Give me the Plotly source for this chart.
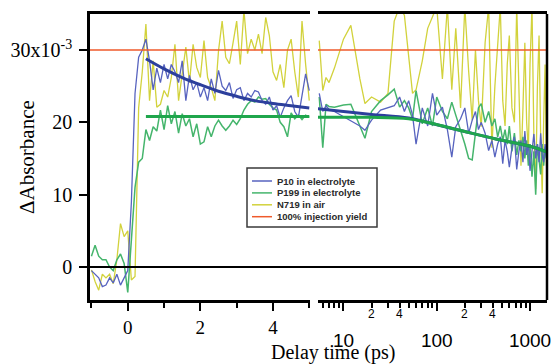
import math
import plotly.graph_objects as go

# ---------------- data (units of 1e-3 absorbance) ----------------
# Left panel: linear delay-time axis (ps)
t_short = [-1.0, -0.9, -0.8, -0.7, -0.6, -0.5, -0.4, -0.3, -0.2, -0.1,
           0.0, 0.1, 0.2, 0.3, 0.4, 0.5, 0.6, 0.7, 0.8, 0.9,
           1.0, 1.1, 1.2, 1.3, 1.4, 1.5, 1.6, 1.7, 1.8, 1.9,
           2.0, 2.1, 2.2, 2.3, 2.4, 2.5, 2.6, 2.7, 2.8, 2.9,
           3.0, 3.1, 3.2, 3.3, 3.4, 3.5, 3.6, 3.7, 3.8, 3.9,
           4.0, 4.1, 4.2, 4.3, 4.4, 4.5, 4.6, 4.7, 4.8, 4.9, 5.0]

p10_short = [-0.5, -1.0, -1.5, -2.7, -2.5, -1.5, -2.2, -1.0, -2.5, -1.5,
             -0.5, 9, 24, 29, 30, 31.5, 28.5, 24.5, 27.5, 25.5,
             28, 26, 28, 27, 25.5, 28.5, 23, 26.5, 24.5, 25.5,
             23.5, 24.8, 23, 26, 24, 27.2, 25, 24.4, 25.5, 23.3,
             24.5, 24.8, 23, 24, 23.5, 24.4, 24.2, 23, 22.5, 23.5,
             21.7, 22.3, 20.7, 22, 23, 23.7, 21.5, 20.7, 23.5, 26.7, 24.4]

p199_short = [1.5, 3.0, 1.5, 1.0, 1.0, 0.0, -0.5, 1.0, 1.8, 0.5,
              -3.5, 4.5, 11, 14.5, 15, 19, 17.5, 19.4, 18.8, 21.7,
              19, 22.3, 19.8, 21.5, 18.5, 21.2, 19.5, 20.5, 18, 19.8,
              17, 17.3, 19.4, 18, 19.5, 20.3, 19.5, 18.9, 19.5, 20.3,
              19.7, 20.5, 21.7, 22.5, 23, 22.8, 23.5, 23.2, 23.3, 22.5,
              22, 21.7, 20, 19.4, 18, 21.3, 20.5, 21, 20.4, 21, 20.7]

n719_short = [-0.4, -2, -3.2, -1, -1.5, -1, -2.3, 1, 6, 4.2,
              5, -1.8, -1.3, 22, 27, 33.6, 23, 28.5, 22.1, 22.5,
              24.4, 23.5, 26.2, 30.8, 23, 26.5, 30.4, 25.5, 30.8, 27.6,
              26.2, 31.3, 26.2, 24.8, 23, 29.9, 34, 29, 28.1, 31,
              34, 28, 35.5, 29.5, 31.5, 30, 32.2, 29.5, 34.5, 32,
              27, 25.8, 28, 24.8, 30, 31.5, 27, 23.5, 34, 28, 23]

fit_t_short = [0.5, 1.0, 1.5, 2.0, 2.5, 3.0, 3.5, 4.0, 4.5, 5.0]
p10_fit_short = [28.8, 27.4, 26.2, 25.2, 24.3, 23.6, 23.0, 22.6, 22.3, 22.0]
p199_fit_short = [20.8, 20.8, 20.8, 20.8, 20.8, 20.8, 20.8, 20.8, 20.8, 20.8]

# Right panel: logarithmic delay-time axis (ps)
t_long = [5.5, 6, 6.5, 7, 8, 10, 12, 15, 17, 20, 25, 30, 35, 40, 45, 50, 55,
          60, 70, 80, 90, 100, 115, 130, 145, 160, 180, 200, 220, 240, 260, 280,
          300, 330, 360, 390, 420, 450, 480, 510, 540, 570, 600, 640, 680, 720,
          760, 800, 840, 880, 920, 960, 1000, 1050, 1100, 1150, 1200, 1250,
          1300, 1350, 1400, 1450, 1500]

p10_long = [24, 21.5, 22.3, 21.8, 21.5, 20.8, 20.2, 19.5, 18.9, 20.3, 21.7, 22,
            22.3, 23.5, 21.5, 23, 21,
            17, 22, 19.5, 24, 21, 22.1, 19, 15.2, 19.4, 20.5, 22, 18.5, 20.3,
            21.5, 19, 20, 18.5, 16.1, 17.5, 15.2, 17, 18, 14.3, 17.5, 16, 13.8,
            16.5, 18, 13.5, 16, 17.5, 14.5, 18.8, 15.5, 17, 13.3, 16, 18.4, 15,
            17, 14.5, 18.5, 15.5, 14.5, 17, 15]

p199_long = [23.5, 16.5, 22.5, 22.2, 22.1, 22.4, 22.5, 19.5, 17.8, 21.5, 23,
             23.8, 24.6, 22.1, 23, 22, 20.5,
             24.4, 19.8, 22, 19.5, 23.5, 21.5, 20.5, 22.8, 21, 19, 17, 15, 14.8,
             18.5, 22, 22.6, 20, 21.5, 19.5, 20.5, 18, 19.5, 17.5, 19, 17, 19.5,
             16, 18.5, 15.5, 17.5, 16, 18, 15, 17.5, 14, 17, 12.5, 16, 10, 17,
             15, 12.8, 17, 14, 16.5, 15]

n719_long = [31.3, 24.4, 26.2, 25.5, 27.5, 31.5, 33.4, 26, 22.6, 23.5, 22.8, 24,
             34, 36, 34.8, 29.5, 24,
             24.5, 28.5, 33, 34.5, 36, 26, 36, 24.5, 33, 22, 36, 27, 20.3, 30,
             23, 19.4, 31, 36, 16.5, 25, 30, 36, 23, 19.5, 28, 32, 22, 20, 36,
             25, 14, 22, 31, 20, 16, 28, 36, 18, 10.8, 25, 32, 18, 10.2, 20, 28,
             14]

fit_t_long = [5.3, 10, 20, 50, 85, 190, 430, 1000, 1520]
p10_fit_long = [21.9, 21.5, 21.1, 20.6, 19.9, 18.8, 17.7, 16.7, 15.9]
p199_fit_long = [20.7, 20.7, 20.7, 20.5, 19.9, 18.8, 17.7, 16.7, 15.9]

injection_yield = 30  # 100% injection yield level

series_names = ["P10 in electrolyte", "P199 in electrolyte", "N719 in air",
                "100% injection yield"]

# ---------------- styling ----------------
C_BLUE = "#5763bf"
C_BLUE_FIT = "#2c3f9c"
C_GREEN = "#45b56c"
C_GREEN_FIT = "#1fa64c"
C_YEL = "#d2d23c"
C_RED = "#ef5a2b"
SERIF = "Liberation Serif, Times New Roman, serif"
SANS = "Liberation Sans, Arial, sans-serif"

W, H = 555, 364
L0, L1 = 90 / W, 310 / W
R0, R1 = 318 / W, 547 / W
YB, YT = 1 - 300 / H, 1 - 14 / H
X_LEFT_RANGE = [-1.04, 5.02]
X_RIGHT_RANGE = [0.727, 3.182]
Y_RANGE = [-4.56, 34.98]

fig = go.Figure()


def add(x, y, color, width, xaxis, shape="linear"):
    fig.add_trace(go.Scatter(x=x, y=y, mode="lines", xaxis=xaxis, yaxis="y",
                             line=dict(color=color, width=width, shape=shape),
                             showlegend=False, hoverinfo="skip"))


for xa, t, yel, grn, blu in (("x", t_short, n719_short, p199_short, p10_short),
                             ("x2", t_long, n719_long, p199_long, p10_long)):
    add(t, yel, C_YEL, 1.3, xa)
    add(t, grn, C_GREEN, 1.5, xa)
    add(t, blu, C_BLUE, 1.3, xa)

# injection-yield reference line in both panels
add([X_LEFT_RANGE[0], X_LEFT_RANGE[1]], [injection_yield] * 2, C_RED, 1.3, "x")
add([10 ** X_RIGHT_RANGE[0], 10 ** X_RIGHT_RANGE[1]], [injection_yield] * 2,
    C_RED, 1.3, "x2")

# fits
add(fit_t_short, p199_fit_short, C_GREEN_FIT, 3, "x", "spline")
add(fit_t_short, p10_fit_short, C_BLUE_FIT, 3, "x", "spline")
add(fit_t_long, p10_fit_long, C_BLUE_FIT, 3, "x2", "spline")
add(fit_t_long, p199_fit_long, C_GREEN_FIT, 3, "x2", "spline")

axis_common = dict(showline=True, linecolor="black", linewidth=2.5,
                   mirror=True, ticks="outside", tickcolor="black",
                   tickwidth=2, ticklen=8, showgrid=False, zeroline=False,
                   automargin=False)

fig.update_layout(
    width=W, height=H, margin=dict(l=0, r=0, t=0, b=0, autoexpand=False),
    paper_bgcolor="white", plot_bgcolor="white", showlegend=False,
    xaxis=dict(domain=[L0, L1], range=X_LEFT_RANGE, anchor="y",
               tickmode="array", tickvals=[0, 2, 4], ticktext=["0", "2", "4"],
               tickfont=dict(family=SERIF, size=19, color="black"),
               ticklabelstandoff=0,
               minor=dict(tickmode="array", tickvals=[-1, 1, 3, 5],
                          ticks="outside", ticklen=5, tickwidth=2,
                          tickcolor="black", showgrid=False),
               **axis_common),
    xaxis2=dict(domain=[R0, R1], range=X_RIGHT_RANGE, type="log", anchor="y",
                tickmode="array", tickvals=[10, 100, 1000],
                ticktext=["10", "100", "1000"],
                tickfont=dict(family=SANS, size=19, color="black"),
                ticklabelstandoff=13,
                minor=dict(tickmode="array",
                           tickvals=[6, 7, 8, 9, 20, 30, 40, 50, 60, 70, 80, 90,
                                     200, 300, 400, 500, 600, 700, 800, 900],
                           ticks="outside", ticklen=5, tickwidth=2,
                           tickcolor="black", showgrid=False),
                **axis_common),
    yaxis=dict(domain=[YB, YT], range=Y_RANGE, anchor="x",
               showline=True, linecolor="black", linewidth=2.5,
               ticks="outside", tickcolor="black", tickwidth=2, ticklen=8,
               showgrid=False, zeroline=False, automargin=False,
               ticklabelstandoff=3,
               tickmode="array", tickvals=[0, 10, 20, 30],
               ticktext=["0", "10", "20", "30x10<sup>-3</sup>"],
               tickfont=dict(family=SERIF, size=20, color="black")),
)

shapes = [
    # right frame of the log panel
    dict(type="line", xref="paper", yref="paper", x0=R1, x1=R1, y0=YB, y1=YT,
         line=dict(color="black", width=2.5)),
    # zero line across both panels
    dict(type="line", xref="paper", yref="y", x0=L0, x1=R1, y0=0, y1=0,
         line=dict(color="black", width=2)),
]

annotations = [
    dict(text="ΔAbsorbance", xref="paper", yref="paper", x=27 / W,
         y=1 - 157 / H, xanchor="center", yanchor="middle", textangle=-90,
         showarrow=False, font=dict(family=SERIF, size=21, color="black")),
    dict(text="Delay time (ps)", xref="paper", yref="paper", x=333 / W,
         y=1 - 352 / H, xanchor="center", yanchor="middle", showarrow=False,
         font=dict(family=SERIF, size=20, color="black")),
]

# small minor-tick labels on the log axis
minor_label_vals = [20, 40, 200, 400]
minor_label_text = ["2", "4", "2", "4"]
for v, s in zip(minor_label_vals, minor_label_text):
    annotations.append(dict(text=s, xref="x2", yref="paper", x=math.log10(v),
                            y=1 - 314 / H, xanchor="center", yanchor="middle",
                            showarrow=False,
                            font=dict(family=SANS, size=12, color="black")))

# legend box (drawn in paper coordinates)
lx0, lx1, ly0, ly1 = 247 / W, 377 / W, 1 - 168 / H, 1 - 227 / H
shapes.append(dict(type="rect", xref="paper", yref="paper", x0=lx0, x1=lx1,
                   y0=ly1, y1=ly0, line=dict(color="#3a3a3a", width=1.5),
                   fillcolor="rgba(255,255,255,0)"))
leg_colors = [C_BLUE, C_GREEN, C_YEL, C_RED]
for i, (name, col) in enumerate(zip(series_names, leg_colors)):
    yy = 1 - (181 + 11.9 * i) / H
    shapes.append(dict(type="line", xref="paper", yref="paper", x0=252 / W,
                       x1=272 / W, y0=yy, y1=yy, line=dict(color=col, width=1.5)))
    annotations.append(dict(text="<b>" + name + "</b>", xref="paper",
                            yref="paper", x=275 / W, y=yy, xanchor="left",
                            yanchor="middle", showarrow=False,
                            font=dict(family=SANS, size=9.5, color="#2a2a2a")))

fig.update_layout(shapes=shapes, annotations=annotations)
fig.write_html("out.html", config={"displayModeBar": False},
               post_script="document.body.style.margin='0';"
                           "document.body.style.overflow='hidden';")
